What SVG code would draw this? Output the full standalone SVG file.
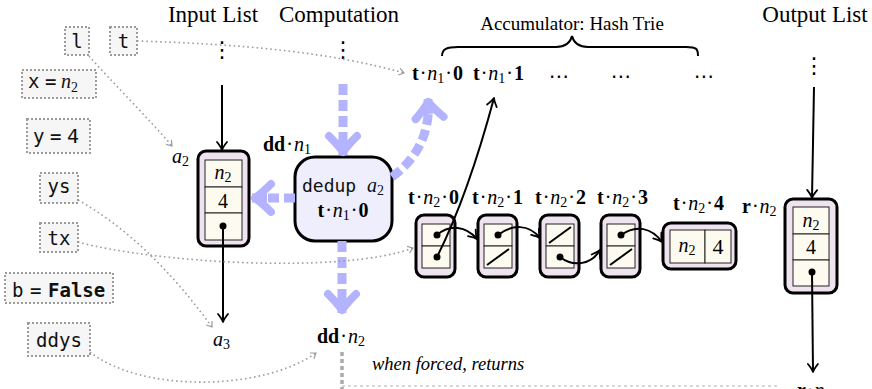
<svg xmlns="http://www.w3.org/2000/svg" width="872" height="389" viewBox="0 0 872 389">
<style>
.title{font-family:"Liberation Serif",serif;font-size:23px;fill:#000}
.acc{font-family:"Liberation Serif",serif;font-size:19px;fill:#000}
.lb{font-family:"Liberation Serif",serif;font-size:20px;fill:#000}
.b{font-weight:bold}
.i{font-style:italic}
.sub{font-size:14px}
.code{font-family:"DejaVu Sans Mono",monospace;font-size:19px;fill:#111}
.vd{font-family:"DejaVu Sans",sans-serif;font-size:22px;fill:#000}
.var{fill:#f6f6f6;stroke:#9c9c9c;stroke-width:2;stroke-dasharray:2 2}
.outer{fill:#efe3f0;stroke:#000;stroke-width:3}
.cell{fill:#fdfbef;stroke:#222;stroke-width:1}
.slash{stroke:#000;stroke-width:2}
.dotc{fill:none;stroke:#9c9c9c;stroke-width:1.6;stroke-dasharray:1.6 3}
.arr{fill:none;stroke:#000;stroke-width:2}
.blue{fill:none;stroke:#b3b3ff;stroke-width:9;stroke-dasharray:11 5}
</style>
<defs>
<marker id="mb" markerUnits="userSpaceOnUse" orient="auto" markerWidth="60" markerHeight="60" refX="0" refY="0" viewBox="-30 -30 60 60" overflow="visible">
<path d="M-15,0 L-3,0" stroke="#b3b3ff" stroke-width="9" fill="none"/>
<path d="M-19,-14 Q-10,-5 -3,0 Q-10,5 -19,14" stroke="#b3b3ff" stroke-width="8" fill="none" stroke-linecap="round" stroke-linejoin="round"/>
</marker>
<marker id="mk" markerUnits="userSpaceOnUse" orient="auto" markerWidth="20" markerHeight="20" refX="0" refY="0" viewBox="-10 -10 20 20" overflow="visible">
<path d="M-8,-5 Q-3,-1 0,0 Q-3,1 -8,5" stroke="#000" stroke-width="1.8" fill="none" stroke-linecap="round" stroke-linejoin="round"/>
</marker>
<marker id="mg" markerUnits="userSpaceOnUse" orient="auto" markerWidth="20" markerHeight="20" refX="0" refY="0" viewBox="-10 -10 20 20" overflow="visible">
<path d="M-5,-3.5 L0,0 L-5,3.5" stroke="#9c9c9c" stroke-width="1.2" fill="none"/>
</marker>
</defs>

<rect width="872" height="389" fill="#fff"/>

<g id="titles">
<text class="title" x="213" y="22" text-anchor="middle">Input List</text>
<text class="title" x="339" y="22" text-anchor="middle">Computation</text>
<text class="title" x="815" y="22" text-anchor="middle">Output List</text>
<text class="vd" x="222" y="57" text-anchor="middle">⋮</text>
<text class="vd" x="343" y="57" text-anchor="middle">⋮</text>
<text class="vd" x="814" y="73" text-anchor="middle">⋮</text>
</g>

<g id="vars">
<g id="var-l"><rect class="var" x="65" y="27" width="24" height="28"/><text class="code" x="77" y="48" text-anchor="middle">l</text></g>
<g id="var-t"><rect class="var" x="110" y="27" width="27" height="28"/><text class="code" x="123.5" y="48" text-anchor="middle">t</text></g>
<g id="var-x"><rect class="var" x="22" y="70" width="74" height="28"/><text class="code" y="88"><tspan x="28">x</tspan><tspan x="45">=</tspan><tspan x="61" class="i" style="font-family:'Liberation Serif',serif;font-size:20px">n</tspan><tspan class="sub" dy="4" style="font-family:'Liberation Serif',serif">2</tspan></text></g>
<g id="var-y"><rect class="var" x="27" y="119" width="63" height="34"/><text class="code" y="143"><tspan x="33">y</tspan><tspan x="50">=</tspan><tspan x="67" style="font-size:20px">4</tspan></text></g>
<g id="var-ys"><rect class="var" x="40" y="173" width="38" height="30"/><text class="code" x="59" y="193" text-anchor="middle">ys</text></g>
<g id="var-tx"><rect class="var" x="40" y="223" width="38" height="29"/><text class="code" x="59" y="245" text-anchor="middle">tx</text></g>
<g id="var-b"><rect class="var" x="5" y="273" width="108" height="30"/><text class="code" y="297"><tspan x="12">b</tspan><tspan x="30">=</tspan><tspan x="48" class="b">False</tspan></text></g>
<g id="var-ddys"><rect class="var" x="28" y="323" width="62" height="33"/><text class="code" x="59" y="347" text-anchor="middle">ddys</text></g>
</g>

<g id="input-node">
<rect class="outer" x="198" y="151" width="51" height="95" rx="8"/>
<rect class="cell" x="205" y="160" width="37" height="27"/>
<rect class="cell" x="205" y="187" width="37" height="26"/>
<rect class="cell" x="205" y="213" width="37" height="27"/>
<text class="lb" x="223" y="179" text-anchor="middle"><tspan class="i">n</tspan><tspan class="sub" dy="3">2</tspan></text>
<text class="lb" x="223" y="208" text-anchor="middle">4</text>
<circle cx="223" cy="226" r="3.5" fill="#000"/>
<text class="lb" x="172" y="163"><tspan class="i">a</tspan><tspan class="sub" dy="3">2</tspan></text>
<text class="lb" x="213" y="346"><tspan class="i">a</tspan><tspan class="sub" dy="3">3</tspan></text>
</g>

<g id="dedup-node">
<rect x="295" y="157" width="97" height="84" rx="20" fill="#eeeefd" stroke="#000" stroke-width="3"/>
<text x="343" y="192" text-anchor="middle" class="code" style="font-size:18px">dedup <tspan class="i" style="font-family:'Liberation Serif',serif;font-size:20px">a</tspan><tspan class="sub" dy="3" style="font-family:'Liberation Serif',serif">2</tspan></text>
<text class="lb" x="343" y="217" text-anchor="middle"><tspan class="b">t</tspan><tspan dx="1">·</tspan><tspan class="i" dx="1">n</tspan><tspan class="sub" dy="3">1</tspan><tspan dx="1" dy="-3">·</tspan><tspan class="b" dx="1">0</tspan></text>
<text class="lb" x="263" y="151"><tspan class="b">dd</tspan><tspan dx="1">·</tspan><tspan class="i" dx="1">n</tspan><tspan class="sub" dy="3">1</tspan></text>
<text class="lb" x="317" y="343"><tspan class="b">dd</tspan><tspan dx="1">·</tspan><tspan class="i" dx="1">n</tspan><tspan class="sub" dy="3">2</tspan></text>
</g>

<g id="accumulator">
<text class="acc" x="572" y="30" text-anchor="middle">Accumulator: Hash Trie</text>
<path d="M442,56 C442,49 447,47 458,47 L556,47 C565,47 570,44 572,36 C574,44 579,47 588,47 L686,47 C697,47 698,49 698,56" fill="none" stroke="#000" stroke-width="2"/>
<text class="lb" x="412" y="80"><tspan class="b">t</tspan><tspan dx="1">·</tspan><tspan class="i" dx="1">n</tspan><tspan class="sub" dy="3">1</tspan><tspan dx="1" dy="-3">·</tspan><tspan class="b" dx="1">0</tspan></text>
<text class="lb" x="473" y="80"><tspan class="b">t</tspan><tspan dx="1">·</tspan><tspan class="i" dx="1">n</tspan><tspan class="sub" dy="3">1</tspan><tspan dx="1" dy="-3">·</tspan><tspan class="b" dx="1">1</tspan></text>
<text class="vd" x="559" y="83" text-anchor="middle" style="font-size:20px">⋯</text>
<text class="vd" x="621" y="83" text-anchor="middle" style="font-size:20px">⋯</text>
<text class="vd" x="704" y="83" text-anchor="middle" style="font-size:20px">⋯</text>
</g>

<g id="trie-node-0">
<rect class="outer" x="416" y="215" width="39" height="62" rx="8"/>
<rect class="cell" x="422" y="224" width="28" height="22"/>
<rect class="cell" x="422" y="246" width="28" height="22"/>
<circle cx="437" cy="235" r="3.5" fill="#000"/>
<circle cx="437" cy="257" r="3.5" fill="#000"/>
<text class="lb" x="408" y="204"><tspan class="b">t</tspan><tspan dx="1">·</tspan><tspan class="i" dx="1">n</tspan><tspan class="sub" dy="3">2</tspan><tspan dx="1" dy="-3">·</tspan><tspan class="b" dx="1">0</tspan></text>
</g>
<g id="trie-node-1">
<rect class="outer" x="478" y="215" width="39" height="62" rx="8"/>
<rect class="cell" x="484" y="224" width="28" height="22"/>
<rect class="cell" x="484" y="246" width="28" height="22"/>
<circle cx="498" cy="235" r="3.5" fill="#000"/>
<line class="slash" x1="487" y1="265" x2="509" y2="249"/>
<text class="lb" x="472" y="204"><tspan class="b">t</tspan><tspan dx="1">·</tspan><tspan class="i" dx="1">n</tspan><tspan class="sub" dy="3">2</tspan><tspan dx="1" dy="-3">·</tspan><tspan class="b" dx="1">1</tspan></text>
</g>
<g id="trie-node-2">
<rect class="outer" x="540" y="215" width="39" height="62" rx="8"/>
<rect class="cell" x="546" y="224" width="28" height="22"/>
<rect class="cell" x="546" y="246" width="28" height="22"/>
<line class="slash" x1="549" y1="243" x2="571" y2="227"/>
<circle cx="560" cy="257" r="3.5" fill="#000"/>
<text class="lb" x="535" y="204"><tspan class="b">t</tspan><tspan dx="1">·</tspan><tspan class="i" dx="1">n</tspan><tspan class="sub" dy="3">2</tspan><tspan dx="1" dy="-3">·</tspan><tspan class="b" dx="1">2</tspan></text>
</g>
<g id="trie-node-3">
<rect class="outer" x="601" y="215" width="39" height="62" rx="8"/>
<rect class="cell" x="607" y="224" width="28" height="22"/>
<rect class="cell" x="607" y="246" width="28" height="22"/>
<circle cx="621" cy="235" r="3.5" fill="#000"/>
<line class="slash" x1="610" y1="265" x2="632" y2="249"/>
<text class="lb" x="597" y="204"><tspan class="b">t</tspan><tspan dx="1">·</tspan><tspan class="i" dx="1">n</tspan><tspan class="sub" dy="3">2</tspan><tspan dx="1" dy="-3">·</tspan><tspan class="b" dx="1">3</tspan></text>
</g>
<g id="trie-node-4">
<rect class="outer" x="663" y="223" width="73" height="46" rx="8"/>
<rect class="cell" x="670" y="230" width="35" height="33"/>
<rect class="cell" x="705" y="230" width="26" height="33"/>
<text class="lb" x="687" y="252" text-anchor="middle"><tspan class="i">n</tspan><tspan class="sub" dy="3">2</tspan></text>
<text class="lb" x="718" y="254" text-anchor="middle" style="font-size:22px">4</text>
<text class="lb" x="673" y="210"><tspan class="b">t</tspan><tspan dx="1">·</tspan><tspan class="i" dx="1">n</tspan><tspan class="sub" dy="3">2</tspan><tspan dx="1" dy="-3">·</tspan><tspan class="b" dx="1">4</tspan></text>
</g>

<g id="output-node">
<rect class="outer" x="785" y="199" width="52" height="94" rx="8"/>
<rect class="cell" x="793" y="207" width="36" height="27"/>
<rect class="cell" x="793" y="234" width="36" height="26"/>
<rect class="cell" x="793" y="260" width="36" height="26"/>
<text class="lb" x="811" y="227" text-anchor="middle"><tspan class="i">n</tspan><tspan class="sub" dy="3">2</tspan></text>
<text class="lb" x="811" y="254" text-anchor="middle">4</text>
<circle cx="812" cy="272" r="3.5" fill="#000"/>
<text class="lb" x="742" y="213"><tspan class="b">r</tspan><tspan dx="1">·</tspan><tspan class="i" dx="1">n</tspan><tspan class="sub" dy="3">2</tspan></text>
<text class="lb" x="797" y="397"><tspan class="b">r</tspan><tspan dx="1">·</tspan><tspan class="i" dx="1">n</tspan><tspan class="sub" dy="3">1</tspan></text>
</g>

<text class="lb i" x="372" y="370" style="font-size:18.5px">when forced, returns</text>

<g id="connectors">
<path class="blue" d="M343,84 L343,155" marker-end="url(#mb)"/>
<path class="blue" d="M295,198 L252,198" marker-end="url(#mb)"/>
<path class="blue" d="M342,241 L342,313" marker-end="url(#mb)"/>
<path class="blue" d="M392,177 C415,160 431,135 428,99" marker-end="url(#mb)"/>

<path class="arr" d="M222,85 L222,150" marker-end="url(#mk)"/>
<path class="arr" d="M223,226 L223,322" marker-end="url(#mk)"/>
<path class="arr" d="M814,87 L812,198" marker-end="url(#mk)"/>
<path class="arr" d="M812,272 L813,372" marker-end="url(#mk)"/>
<path class="arr" d="M437,235 C450,224 466,226 477,239" marker-end="url(#mk)"/>
<path class="arr" d="M498,235 C512,224 529,224 540,238" marker-end="url(#mk)"/>
<path class="arr" d="M560,257 C574,268 592,264 600,250" marker-end="url(#mk)"/>
<path class="arr" d="M621,235 C636,224 652,228 662,242" marker-end="url(#mk)"/>
<path class="arr" d="M437,257 Q468,195 494,98" marker-end="url(#mk)"/>

<path class="dotc" d="M89,56 C110,80 150,120 172,146" marker-end="url(#mg)"/>
<path class="dotc" d="M137,41 C240,44 330,52 404,73" marker-end="url(#mg)"/>
<path class="dotc" d="M78,200 C140,235 185,290 212,327" marker-end="url(#mg)"/>
<path class="dotc" d="M78,242 C150,262 340,275 413,248" marker-end="url(#mg)"/>
<path class="dotc" d="M90,352 C140,392 260,392 316,353" marker-end="url(#mg)"/>

<path d="M342,352 L342,389" stroke="#aaa" stroke-width="3.5" stroke-dasharray="4 3" fill="none"/>
<path d="M342,386 L778,386" stroke="#ccc" stroke-width="1.5" stroke-dasharray="3 3" fill="none"/>
</g>
</svg>
